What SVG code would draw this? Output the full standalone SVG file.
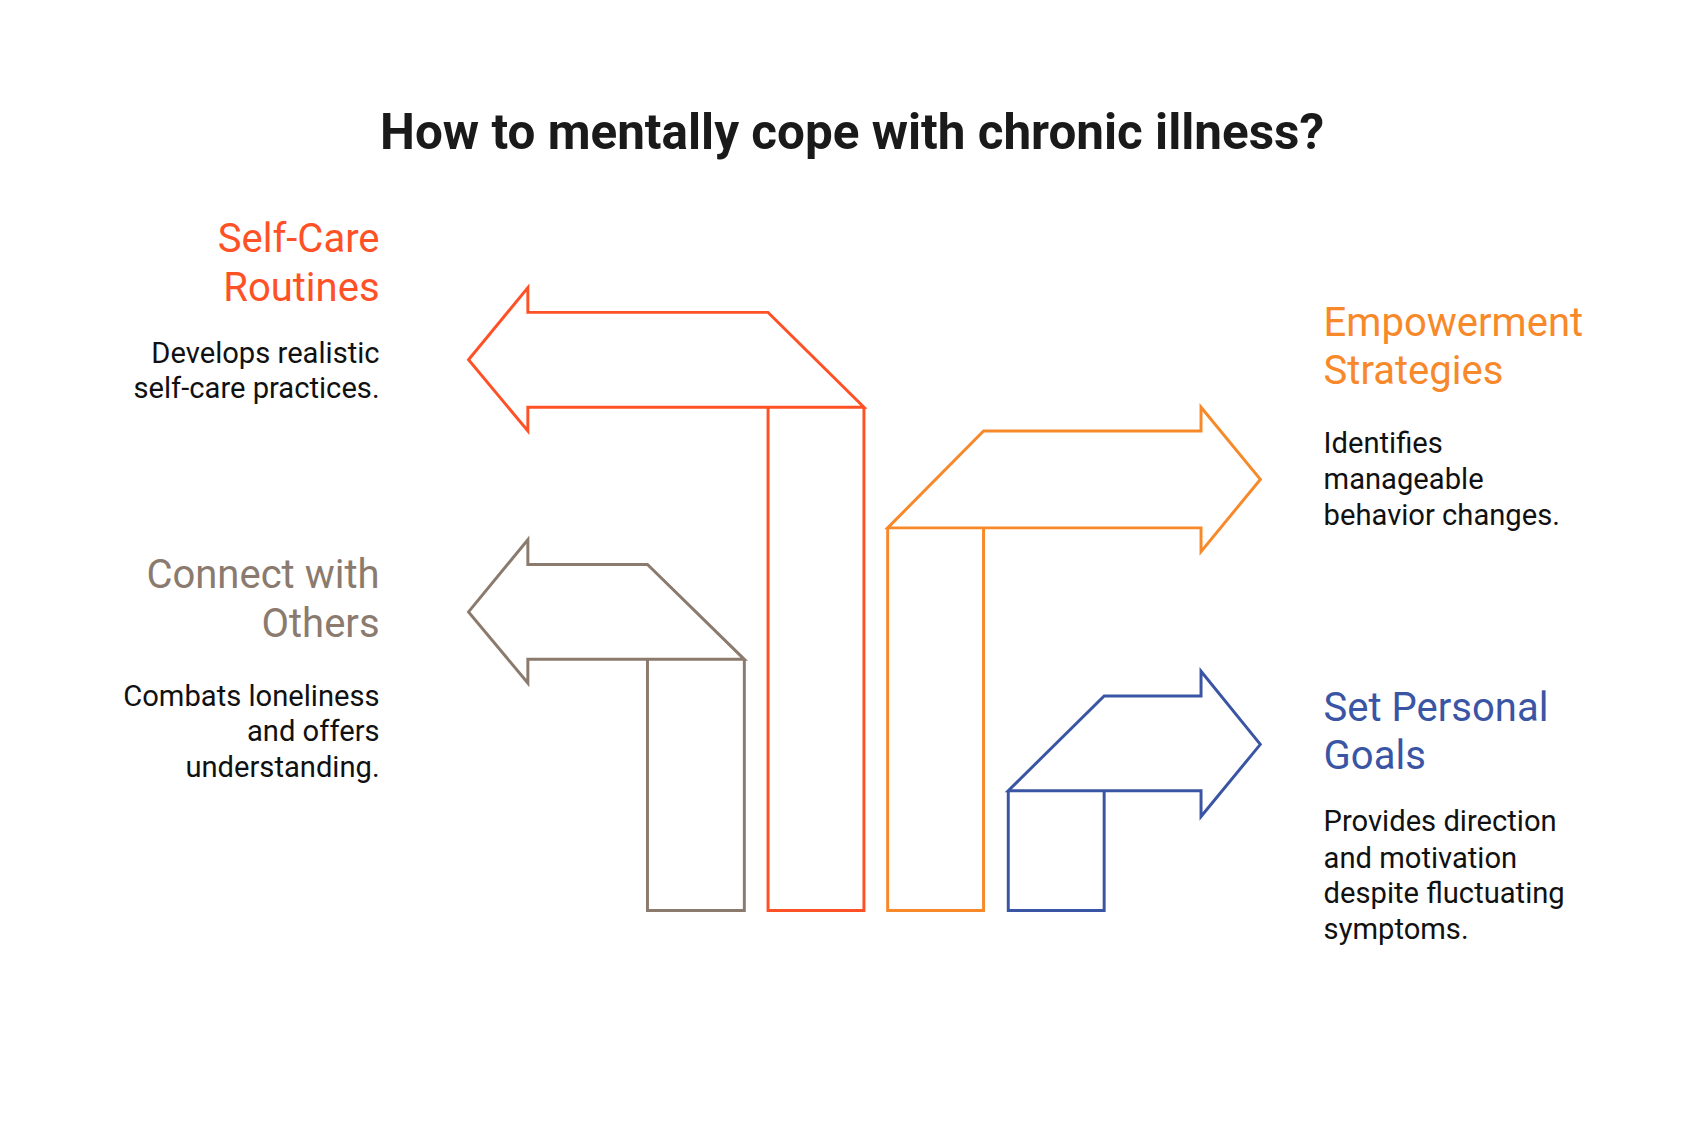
<svg xmlns="http://www.w3.org/2000/svg" width="1704" height="1128" viewBox="0 0 1704 1128">
<style>
text{font-family:Roboto,"Liberation Sans",sans-serif}
.t{font-size:40.5px}
.d{font-size:29.5px;fill:#111}
.s{fill:none;stroke-width:3;stroke-linejoin:miter}
</style>
<rect width="1704" height="1128" fill="#fff"/>
<g transform="scale(0.9885)">
<text x="862" y="151" text-anchor="middle" font-size="50" font-weight="bold" fill="#1a1a1a">How to mentally cope with chronic illness?</text>
<g id="arrows">
<g id="selfcare-arrow"><path class="s" stroke="#FF5126" d="M474,364 L534,291 L534,316 L777,316 L874,412 L534,412 L534,436 Z M777,412 L777,921 L874,921 L874,412"/></g>
<g id="connect-arrow"><path class="s" stroke="#8B7B6E" d="M474,619 L534,546 L534,571 L655,571 L753,667 L534,667 L534,691 Z M655,667 L655,921 L753,921 L753,667"/></g>
<g id="empower-arrow"><path class="s" stroke="#F7892A" d="M1275,485 L1215,412 L1215,436 L995,436 L898,534 L1215,534 L1215,558 Z M995,534 L995,921 L898,921 L898,534"/></g>
<g id="goals-arrow"><path class="s" stroke="#3A55A4" d="M1275,753 L1215,679 L1215,704 L1117,704 L1020,800 L1215,800 L1215,826 Z M1117,800 L1117,921 L1020,921 L1020,800"/></g>
</g>
<g id="selfcare" text-anchor="end">
<text class="t" x="384" y="255" fill="#FF5126">Self-Care</text>
<text class="t" x="384" y="304" fill="#FF5126">Routines</text>
<text class="d" x="384" y="367">Develops realistic</text>
<text class="d" x="384" y="403">self-care practices.</text>
</g>
<g id="connect" text-anchor="end">
<text class="t" x="384" y="595" fill="#8B7B6E">Connect with</text>
<text class="t" x="384" y="644" fill="#8B7B6E">Others</text>
<text class="d" x="384" y="714">Combats loneliness</text>
<text class="d" x="384" y="750">and offers</text>
<text class="d" x="384" y="786">understanding.</text>
</g>
<g id="empower">
<text class="t" x="1339" y="340" fill="#F7892A">Empowerment</text>
<text class="t" x="1339" y="388" fill="#F7892A">Strategies</text>
<text class="d" x="1339" y="458">Identifies</text>
<text class="d" x="1339" y="495">manageable</text>
<text class="d" x="1339" y="531">behavior changes.</text>
</g>
<g id="goals">
<text class="t" x="1339" y="729" fill="#3A55A4">Set Personal</text>
<text class="t" x="1339" y="778" fill="#3A55A4">Goals</text>
<text class="d" x="1339" y="841">Provides direction</text>
<text class="d" x="1339" y="878">and motivation</text>
<text class="d" x="1339" y="914">despite fluctuating</text>
<text class="d" x="1339" y="950">symptoms.</text>
</g>
</g>
</svg>
